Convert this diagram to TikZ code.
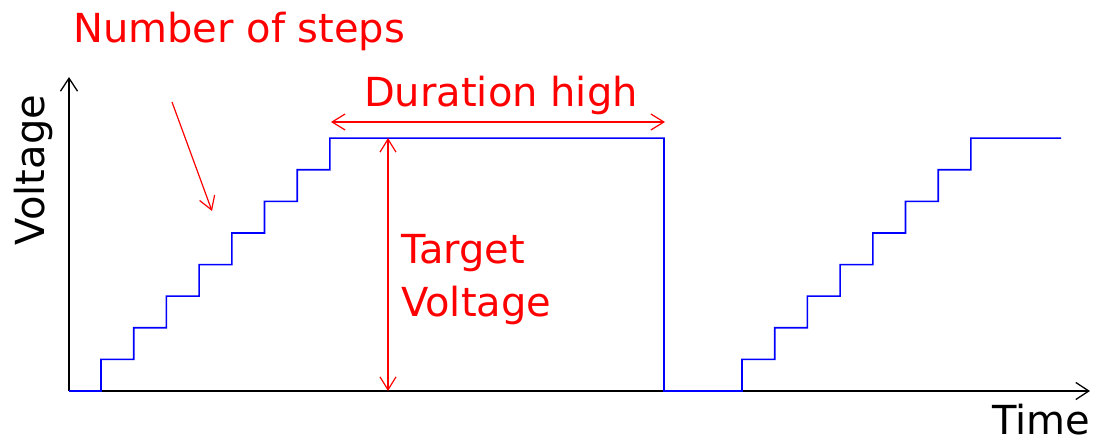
\documentclass[tikz,border=0pt]{standalone}
\usepackage{fontspec}
\setmainfont{DejaVu Sans}
\usetikzlibrary{arrows.meta}
\tikzset{
  axis/.style={line width=1.3pt, black, -{Straight Barb[length=13pt,width=17pt]}},
  signal/.style={line width=1.6pt, blue, line join=miter},
  marker/.style={line width=1.2pt, red, -{Straight Barb[length=13pt,width=16pt]}},
  dimline/.style={marker, {Straight Barb[length=13pt,width=16pt]}-{Straight Barb[length=13pt,width=16pt]}},
  lbl/.style={inner sep=0pt, font=\fontsize{40}{53}\selectfont}
}
\begin{document}
\begin{tikzpicture}[x=1pt, y=-1pt]
        \useasboundingbox (0,0) rectangle (1100,443);
        % axes
        \coordinate (o) at (69,391);
        \coordinate (ytop) at (69,77);
        \coordinate (xend) at (1090,391);
        \draw[axis] (o) -- (ytop);
        \draw[axis] (o) -- (xend);
        \node[lbl, rotate=90, anchor=base] (ylab) at (44,170) {Voltage};
        \node[lbl, anchor=base west] (xlab) at (992,434) {Time};

        % staircase signal
        \draw[signal] (o) -- (101,391)
          \foreach \i in {0,...,7}{ -- ({101+\i*32.7},{391-\i*31.6}) -- ({101+\i*32.7},{391-(\i+1)*31.6}) }
          -- (664,138.2) -- (664,391) -- (742,391)
          \foreach \i in {0,...,7}{ -- ({742+\i*32.7},{391-\i*31.6}) -- ({742+\i*32.7},{391-(\i+1)*31.6}) }
          -- (1061,138.2);

        % labels
        \node[lbl, red, anchor=base west] (steps) at (73,43) {Number of steps};
        \coordinate (sfrom) at (172,102);
        \coordinate (sto) at (212,211);
        \draw[marker] (sfrom) -- (sto);

        \node[lbl, red, anchor=base] (dur) at (501,107) {Duration high};
        \coordinate (dl) at (331,122);
        \coordinate (dr) at (665,122);
        \draw[dimline] (dl) -- (dr);

        \coordinate (tbot) at (388,391);
        \coordinate (ttop) at (388,138);
        \draw[dimline] (tbot) -- (ttop);
        \node[lbl, red, anchor=base west, align=left] (target) at (401,317) {Target\\Voltage};
    \end{tikzpicture}
\end{document}
